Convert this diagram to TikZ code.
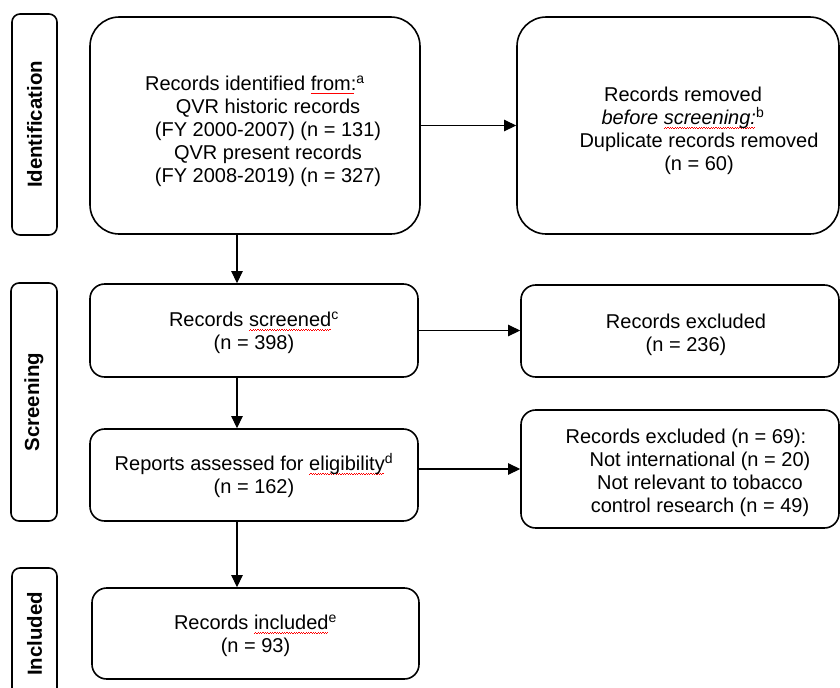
\documentclass[tikz,border=0pt]{standalone}
\usepackage{fontspec}
\setmainfont{Liberation Sans}
\usetikzlibrary{arrows.meta}

% red squiggle under a word
\newsavebox{\wavebox}
\newcommand\redwave[1]{\sbox{\wavebox}{#1}\rlap{\color{red}\leaders\hbox{\rule[-3pt]{0.9pt}{0.55pt}\rule[-2.4pt]{0.9pt}{0.55pt}}\hskip\wd\wavebox}\usebox{\wavebox}}
% leading indent of a line
\newcommand\ind[1]{\hspace*{#1}}
% top strut of the first line
\newcommand\tstrut[1]{\rule{0pt}{#1}}

\tikzset{
    box/.style={draw, line width=1.2pt, rounded corners=11pt, align=center, inner sep=0pt, font=\fontsize{15}{17.25}\selectfont},
    bigbox/.style={box, rounded corners=22pt},
    phase/.style={draw, line width=1.2pt, rounded corners=6pt, rotate=90, inner sep=0pt, font=\fontsize{15.3}{17.25}\selectfont\bfseries},
    arr/.style={line width=0.8pt, -{Triangle[length=9pt,width=8.5pt]}}
}

\begin{document}
\begin{tikzpicture}[x=0.75pt,y=0.75pt,yscale=-1,xscale=1]
    \useasboundingbox (0,0) rectangle (840,687);

    %Phase labels
    \node [phase, minimum width=165.75pt, minimum height=33.75pt] (phid) at (34.5,124.5) {Identification};
    \node [phase, minimum width=178.5pt, minimum height=34.5pt] (phscr) at (34,402) {Screening};
    \node [phase, minimum width=99pt, minimum height=33.75pt] (phinc) at (34.5,634) {Included};

    %Left column
    \node [bigbox, minimum width=247.5pt, minimum height=162.75pt] (ident) at (255,125.5) {\tstrut{19pt}Records identified \redwave{from:}\textsuperscript{a}\\ \ind{19.5pt}QVR historic records\\ \ind{19.5pt}(FY 2000-2007) (n = 131)\\ \ind{19.5pt}QVR present records\\ \ind{19.5pt}(FY 2008-2019) (n = 327)};
    \node [box, minimum width=246pt, minimum height=69.75pt] (screened) at (254,330.5) {\tstrut{14pt}Records \redwave{screened}\textsuperscript{c}\\ (n = 398)};
    \node [box, minimum width=246pt, minimum height=69pt] (reports) at (254,475) {\tstrut{14pt}Reports assessed for \redwave{eligibility}\textsuperscript{d}\\ (n = 162)};
    \node [box, minimum width=245.25pt, minimum height=68.25pt] (included) at (255.5,633.5) {\tstrut{15pt}Records \redwave{included}\textsuperscript{e}\\ (n = 93)};

    %Right column
    \node [bigbox, minimum width=241.5pt, minimum height=162.75pt] (removed) at (678,125.5) {\tstrut{19pt}\ind{7.5pt}Records removed\\ \ind{7.5pt}\textit{before \redwave{screening:}}\textsuperscript{b}\\ \ind{31.5pt}Duplicate records removed\\ \ind{31.5pt}(n = 60)};
    \node [box, minimum width=238.5pt, minimum height=69pt] (excl1) at (680,331) {\tstrut{16pt}\ind{9pt}Records excluded\\ \ind{9pt}(n = 236)};
    \node [box, minimum width=238.5pt, minimum height=88.5pt] (excl2) at (680,469) {\tstrut{17pt}\ind{9pt}Records excluded (n = 69):\\ \ind{30pt}Not international (n = 20)\\ \ind{30pt}Not relevant to tobacco\\ \ind{30pt}control research (n = 49)};

    %Arrows
    \coordinate (spine) at (237,0);
    \draw [arr] (ident.south -| spine) -- (screened.north -| spine);
    \draw [arr] (screened.south -| spine) -- (reports.north -| spine);
    \draw [arr] (reports.south -| spine) -- (included.north -| spine);
    \draw [arr] (ident) -- (removed);
    \draw [arr] (screened.east) -- (excl1.west |- screened.east);
    \draw [arr] (reports.east |- excl2.west) -- (excl2.west);

\end{tikzpicture}
\end{document}
